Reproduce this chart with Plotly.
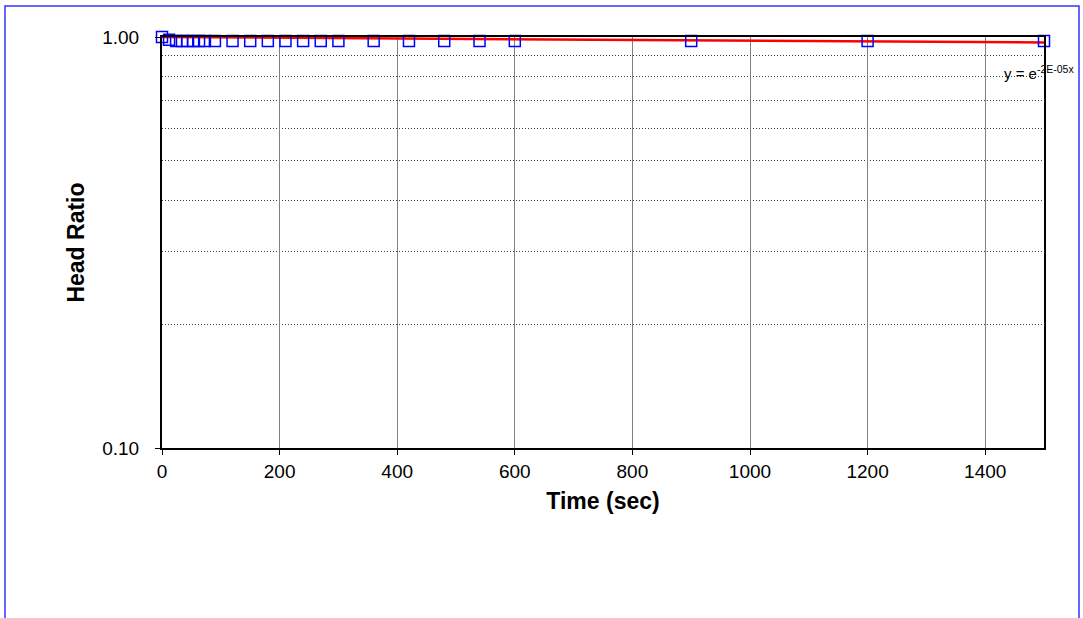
import plotly.graph_objects as go

# Data
time_sec = [0, 12, 24, 34, 43, 53, 63, 73, 90, 120, 150, 180, 210, 240, 270, 300,
            360, 420, 480, 540, 600, 900, 1200, 1500]
head_ratio = [1.0, 0.985, 0.978, 0.978, 0.978, 0.978, 0.978, 0.978, 0.978, 0.978,
              0.978, 0.978, 0.978, 0.978, 0.978, 0.978, 0.978, 0.978, 0.978, 0.978,
              0.978, 0.978, 0.978, 0.978]
trend_x = [0, 1500]
trend_y = [1.0, 0.970]
x_ticks = [0, 200, 400, 600, 800, 1000, 1200, 1400]
y_ticks = [0.1, 1.0]
y_tick_labels = ["0.10", "1.00"]
y_minor = [0.2, 0.3, 0.4, 0.5, 0.6, 0.7, 0.8, 0.9]

FONT = "Liberation Sans, Arial, sans-serif"

fig = go.Figure()
fig.add_trace(go.Scatter(x=trend_x, y=trend_y, mode="lines",
                         line=dict(color="#FF0000", width=2.5), showlegend=False))
fig.add_trace(go.Scatter(x=time_sec, y=head_ratio, mode="markers",
                         marker=dict(symbol="square-open", size=11, color="#0000FF",
                                     line=dict(width=1.5, color="#0000FF")),
                         showlegend=False, cliponaxis=False))

fig.update_layout(
    width=1083, height=618,
    margin=dict(l=162, r=39, t=37, b=170),
    paper_bgcolor="white", plot_bgcolor="white",
    font=dict(family=FONT, size=19, color="black"),
    xaxis=dict(range=[0, 1500], tickvals=x_ticks, showgrid=True, gridcolor="#808080",
               gridwidth=1, zeroline=False, showline=True, linecolor="black", linewidth=2,
               mirror=True, ticks="outside", ticklen=5, tickcolor="black",
               tickfont=dict(size=19), ticklabelstandoff=0,
               title=dict(text="<b>Time (sec)</b>", font=dict(size=23), standoff=12)),
    yaxis=dict(type="log", range=[-1, 0], tickvals=y_ticks, ticktext=y_tick_labels,
               showgrid=False, zeroline=False, showline=True, linecolor="black", linewidth=2,
               mirror=True, ticks="outside", ticklen=5, tickcolor="black",
               tickfont=dict(size=19), ticklabelstandoff=12,
               minor=dict(tickvals=y_minor, showgrid=True, gridcolor="#404040",
                          griddash="1px,2px", gridwidth=1, ticks=""),
               title=dict(text="<b>Head Ratio</b>", font=dict(size=23), standoff=11)),
    shapes=[dict(type="rect", xref="paper", yref="paper",
                 x0=-157 / 882, x1=917 / 882, y0=-2.0, y1=(448 - 6) / 411,
                 line=dict(color="#3333FF", width=1.5), fillcolor="rgba(0,0,0,0)",
                 layer="below")],
    annotations=[dict(text="y = e<sup>-2E-05x</sup>", xref="paper", yref="paper",
                      x=(1076 - 162) / 882, y=(448 - 72) / 411, xanchor="right",
                      yanchor="middle", showarrow=False, font=dict(size=15))],
)

fig.write_html("out.html", config={"displayModeBar": False},
               post_script="document.body.style.margin='0';document.body.style.padding='0';")
